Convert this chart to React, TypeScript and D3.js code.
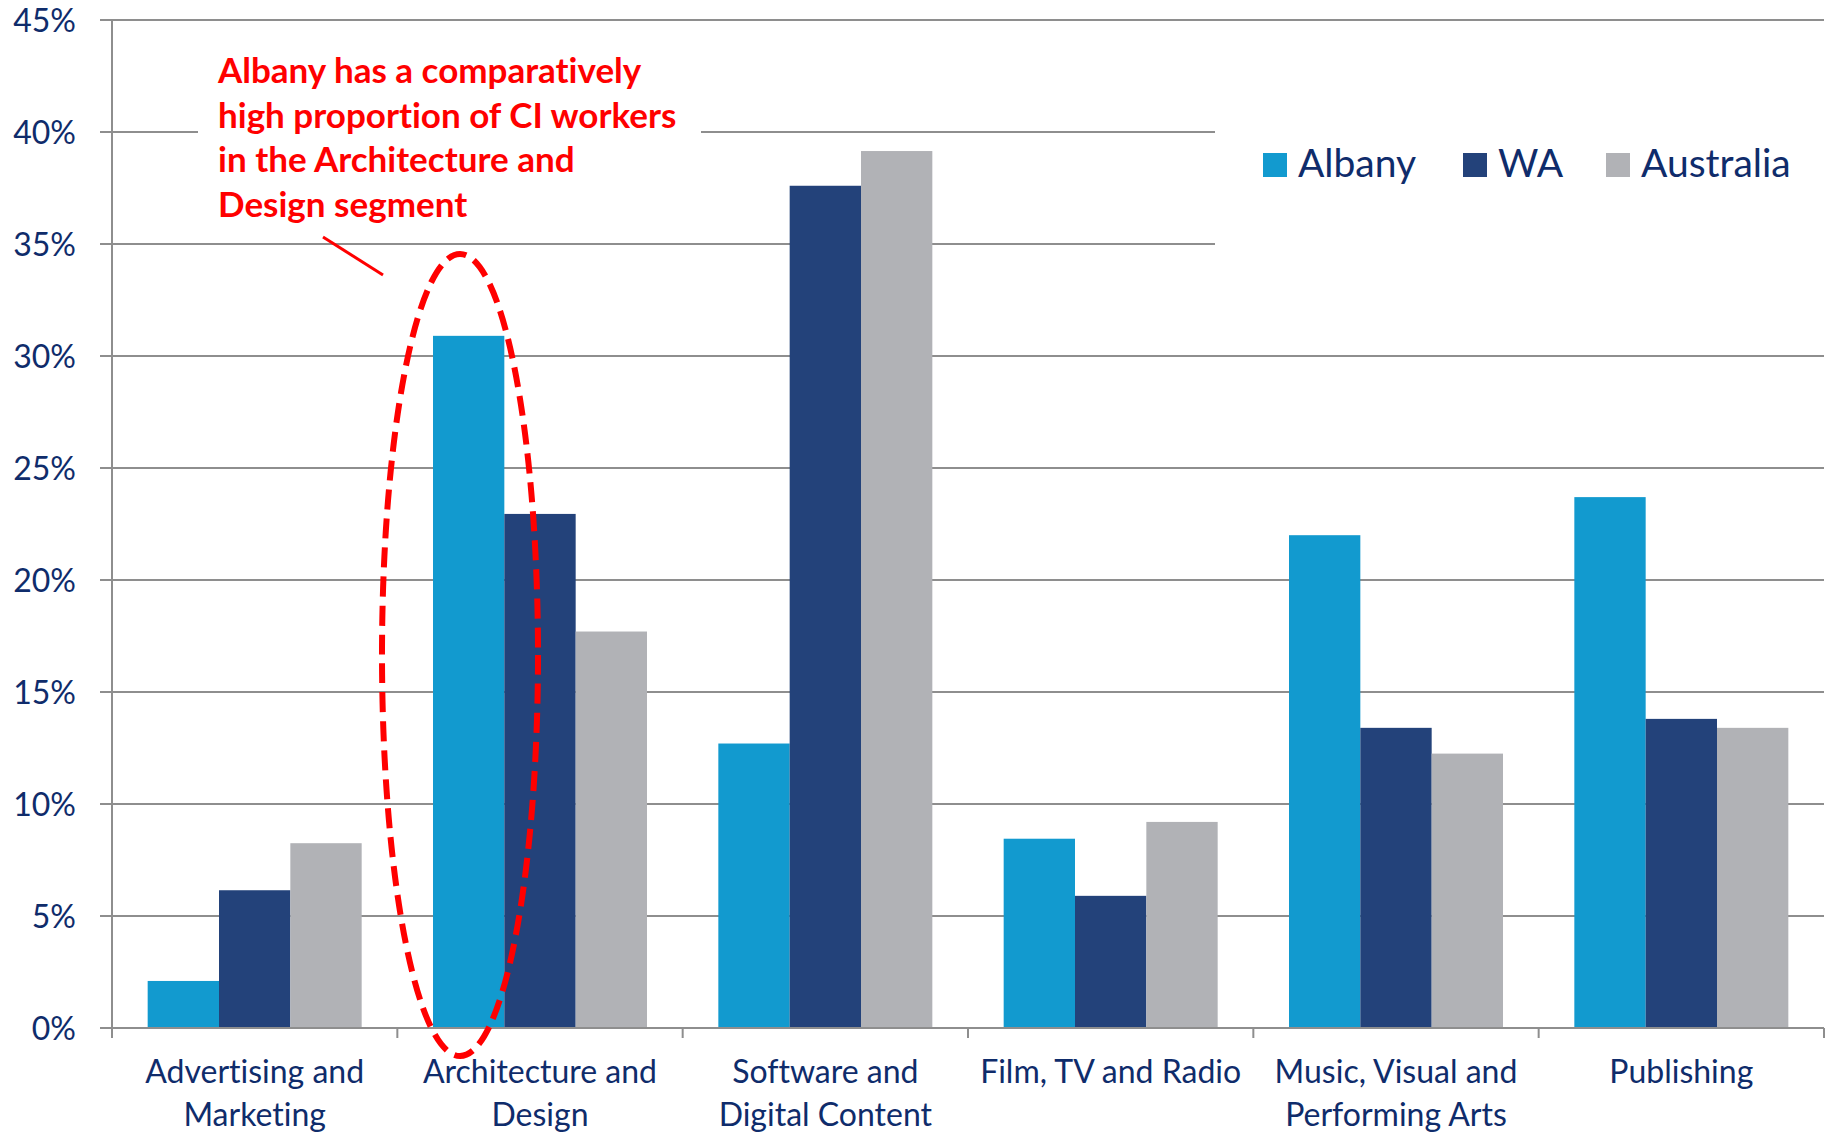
import React from "react";
import * as d3 from "d3";

const categories = [
  "Advertising and Marketing",
  "Architecture and Design",
  "Software and Digital Content",
  "Film, TV and Radio",
  "Music, Visual and Performing Arts",
  "Publishing",
];
const categoryLines = [
  ["Advertising and", "Marketing"],
  ["Architecture and", "Design"],
  ["Software and", "Digital Content"],
  ["Film, TV and Radio"],
  ["Music, Visual and", "Performing Arts"],
  ["Publishing"],
];
const seriesNames = ["Albany", "WA", "Australia"];
const albany = [2.1, 30.9, 12.7, 8.45, 22.0, 23.7];
const wa = [6.15, 22.95, 37.6, 5.9, 13.4, 13.8];
const australia = [8.25, 17.7, 39.15, 9.2, 12.25, 13.4];
const yTicks = [0, 5, 10, 15, 20, 25, 30, 35, 40, 45];
const annotationLines = [
  "Albany has a comparatively",
  "high proportion of CI workers",
  "in the Architecture and",
  "Design segment",
];

const colors = ["#129ACF", "#23427A", "#B1B2B6"];
const textColor = "#0F2C6B";
const gridColor = "#8E8E8E";
const FONT = "Lato, 'Open Sans', sans-serif";

export default function App() {
  const W = 1831;
  const H = 1133;
  const left = 112;
  const right = 1824;
  const top = 20;
  const bottom = 1028;

  const x0 = d3.scaleBand<string>().domain(categories).range([left, right]).paddingInner(0).paddingOuter(0);
  const x1 = d3
    .scaleBand<string>()
    .domain(seriesNames)
    .range([0, x0.bandwidth()])
    .paddingInner(0)
    .paddingOuter(0.5);
  const y = d3.scaleLinear().domain([0, 45]).range([bottom, top]);

  const series = [albany, wa, australia];
  const boundaries = [...categories.map((c) => x0(c) as number), right];

  return (
    <svg
      width={W}
      height={H}
      style={{ position: "absolute", left: 0, top: 0, background: "#fff", fontVariantLigatures: "none" }}
      fontFamily={FONT}
    >
      <rect x={0} y={0} width={W} height={H} fill="#fff" />
      {/* gridlines */}
      {yTicks.map((t) => (
        <line key={"g" + t} x1={left - 12} x2={right} y1={y(t)} y2={y(t)} stroke={gridColor} strokeWidth={2} />
      ))}
      {/* boxes hiding gridlines behind annotation and legend */}
      <rect x={198} y={40} width={503} height={190} fill="#fff" />
      <rect x={1215} y={100} width={616} height={160} fill="#fff" />
      {/* y tick labels */}
      {yTicks.map((t) => (
        <text
          key={"yl" + t}
          x={76}
          y={y(t)}
          dy="0.36em"
          textAnchor="end"
          fontSize={32}
          fill={textColor}
        >
          {t}%
        </text>
      ))}
      {/* bars */}
      {categories.map((c, ci) => (
        <g key={c} transform={`translate(${x0(c)},0)`}>
          {seriesNames.map((s, si) => (
            <rect
              key={s}
              x={x1(s)}
              y={y(series[si][ci])}
              width={x1.bandwidth()}
              height={bottom - y(series[si][ci])}
              fill={colors[si]}
            />
          ))}
        </g>
      ))}
      {/* axes */}
      <line x1={left} x2={left} y1={top} y2={bottom + 10} stroke={gridColor} strokeWidth={2} />
      <line x1={left - 12} x2={right} y1={bottom} y2={bottom} stroke={gridColor} strokeWidth={2} />
      {boundaries.map((b, i) => (
        <line key={"xt" + i} x1={b} x2={b} y1={bottom} y2={bottom + 10} stroke={gridColor} strokeWidth={2} />
      ))}
      {/* category labels */}
      {categories.map((c, ci) => (
        <text
          key={"cl" + c}
          x={(x0(c) as number) + x0.bandwidth() / 2}
          y={1083}
          textAnchor="middle"
          fontSize={32}
          fill={textColor}
        >
          {categoryLines[ci].map((ln, li) => (
            <tspan key={li} x={(x0(c) as number) + x0.bandwidth() / 2} dy={li === 0 ? 0 : 43}>
              {ln}
            </tspan>
          ))}
        </text>
      ))}
      {/* legend */}
      {seriesNames.map((s, si) => {
        const lx = [1263, 1463, 1606][si];
        return (
          <g key={"lg" + s}>
            <rect x={lx} y={153} width={24} height={24} fill={colors[si]} />
            <text x={lx + 35} y={177} fontSize={39} fill={textColor}>
              {s}
            </text>
          </g>
        );
      })}
      {/* annotation */}
      <text x={218} y={83} fontSize={35} fontWeight="bold" fill="#FF0000">
        {annotationLines.map((ln, li) => (
          <tspan key={li} x={218} dy={li === 0 ? 0 : 44.7}>
            {ln}
          </tspan>
        ))}
      </text>
      <line x1={323} y1={237} x2={383} y2={275} stroke="#FF0000" strokeWidth={3} />
      <ellipse
        cx={460}
        cy={655}
        rx={78}
        ry={401}
        fill="none"
        stroke="#FF0000"
        strokeWidth={6}
        strokeDasharray="20 9"
      />
    </svg>
  );
}
